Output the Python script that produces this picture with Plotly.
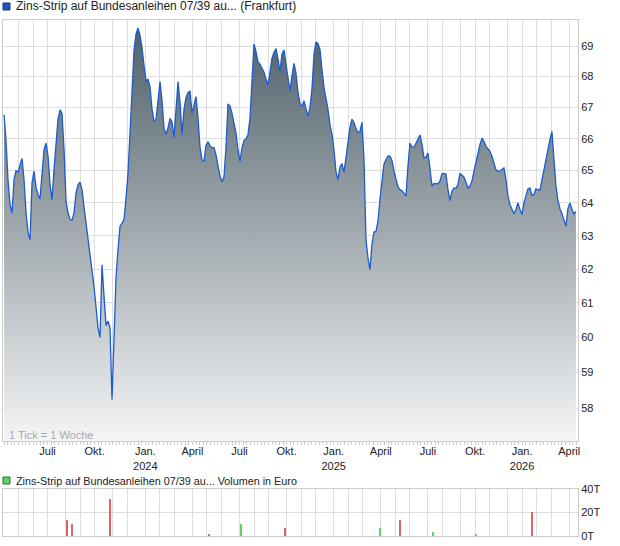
import math
import plotly.graph_objects as go
import pandas as pd

# ---- price series (roughly every 4 days) ----
prices = [
    66.76, 65.94, 64.69, 63.95, 63.69, 64.72, 65.00, 64.95, 65.18, 65.38,
    64.72, 63.69, 63.10, 62.88, 64.62, 64.98, 64.48, 64.26, 64.13, 64.98,
    65.66, 65.86, 65.45, 64.57, 64.10, 65.03, 65.71, 66.63, 66.92, 66.81,
    65.66, 64.05, 63.69, 63.49, 63.47, 63.69, 64.31, 64.56, 64.64, 64.39,
    63.88, 63.41, 62.88, 62.48, 62.05, 61.47, 60.88, 60.27, 60.00, 62.13,
    61.20, 60.34, 60.47, 60.27, 58.24, 59.93, 61.74,
    62.58, 63.29, 63.37, 63.49, 64.15, 64.93, 66.18, 67.54, 68.85, 69.40,
    69.60, 69.36, 68.95, 68.35, 67.86, 67.91, 67.67, 66.94, 66.57, 66.60,
    67.18, 67.84, 67.22, 66.32, 66.15, 66.34, 66.65, 66.54, 66.04, 66.97,
    67.84, 67.18, 66.13, 66.94, 67.32, 67.48, 67.53, 66.81, 67.08, 67.35,
    66.67, 65.73, 65.34, 65.29, 65.79, 65.90, 65.78, 65.72, 65.72, 65.50,
    65.15, 64.82, 64.65, 64.80, 65.74, 67.11, 67.04,
    66.81, 66.49, 66.18, 65.66, 65.29, 65.71, 65.95, 65.99, 66.13, 66.65,
    67.89, 69.07, 68.82, 68.48, 68.40, 68.29, 68.14, 67.92, 67.73, 68.14,
    68.60, 68.79, 68.92, 68.58, 68.16, 68.74, 68.87, 68.41, 67.98, 67.53,
    68.02, 68.43, 68.11, 67.49, 67.13, 67.02, 67.21, 66.99, 66.71, 67.00,
    67.60, 68.71, 69.14, 69.08, 68.89, 68.24, 67.64, 67.29, 66.94, 66.44,
    66.15, 65.66, 64.97, 64.72, 65.11, 65.22, 64.95,
    65.40, 65.95, 66.36, 66.62, 66.52, 66.32, 66.20, 66.23, 66.52, 65.38,
    62.88, 62.33, 61.98, 62.75, 63.11, 63.13, 63.44, 64.10, 64.77, 65.21,
    65.34, 65.46, 65.45, 65.32, 64.98, 64.68, 64.49, 64.41, 64.37, 64.30,
    64.21, 65.14, 65.86, 65.74, 65.73, 65.86, 66.02, 66.12, 65.83, 65.40,
    65.42, 65.55, 65.07, 64.52, 64.60, 64.60, 64.59, 64.67, 64.90, 64.91,
    64.89, 64.41, 64.07, 64.36, 64.46, 64.45, 64.57,
    64.91, 64.86, 64.80, 64.64, 64.46, 64.52, 64.67, 64.98, 65.29, 65.60,
    65.81, 66.02, 65.92, 65.76, 65.68, 65.60, 65.45, 65.24, 65.03, 64.98,
    64.98, 65.03, 65.08, 64.72, 64.21, 63.95, 63.78, 63.67, 63.80, 64.00,
    63.80, 63.64, 64.00, 64.26, 64.43, 64.46, 64.23, 64.26, 64.43, 64.41,
    64.39, 64.70, 65.03, 65.34, 65.66, 65.97, 66.23, 65.27, 64.52, 64.07,
    63.82, 63.67, 63.44, 63.29, 63.82, 64.00, 63.80, 63.66, 63.74,
]
first_date = "2023-04-09"
last_date = "2026-04-18"
dates = pd.date_range(first_date, last_date, periods=len(prices))

# ---- volume (thousand euro) ----
vol_dates = ["2023-08-10", "2023-08-18", "2023-11-01", "2024-05-09", "2024-07-11",
             "2024-10-04", "2025-04-04", "2025-05-14", "2025-07-17", "2025-10-08",
             "2026-01-24"]
vol_values = [13.9, 10.5, 31.8, 2.0, 10.5, 7.0, 7.0, 13.9, 3.7, 1.1, 20.1]
vol_up = [False, False, False, False, True, False, True, False, True, True, False]

# ---- axis ticks ----
month_ticks = ["2023-05-07", "2023-06-04", "2023-07-02", "2023-08-06", "2023-09-03",
               "2023-10-01", "2023-11-05", "2023-12-03", "2024-01-07", "2024-02-04",
               "2024-03-03", "2024-04-07", "2024-05-05", "2024-06-02", "2024-07-07",
               "2024-08-04", "2024-09-01", "2024-10-06", "2024-11-03", "2024-12-01",
               "2025-01-05", "2025-02-02", "2025-03-02", "2025-04-06", "2025-05-04",
               "2025-06-01", "2025-07-06", "2025-08-03", "2025-09-07", "2025-10-05",
               "2025-11-02", "2025-12-07", "2026-01-04", "2026-02-01", "2026-03-01",
               "2026-04-05"]
month_labels = ["", "", "Juli", "", "", "Okt.", "", "", "Jan.<br>2024", "", "",
                "April", "", "", "Juli", "", "", "Okt.", "", "", "Jan.<br>2025", "", "",
                "April", "", "", "Juli", "", "", "Okt.", "", "", "Jan.<br>2026", "", "",
                "April"]
price_ticks = [58, 59, 60, 61, 62, 63, 64, 65, 66, 67, 68, 69]
vol_ticks = [0, 20, 40]
vol_tick_labels = ["0T", "20T", "40T"]

W, H = 620, 546
x_dom = [3 / W, 578 / W]
y_dom = [1 - 441 / H, 1 - 20 / H]
y2_dom = [1 - 536 / H, 1 - 489 / H]
x_range = ["2023-04-07", "2026-04-22"]
y_lo, y_hi = 57.09, 69.87

GRID = "#dddddd"
BORDER = "#cccccc"
TXT = "#222222"
FONT = "Liberation Sans, Arial, sans-serif"

fig = go.Figure()
fig.add_trace(go.Scatter(x=[dates[0], dates[-1]], y=[57.0, 57.0], mode="lines",
                         line=dict(width=0), hoverinfo="skip", showlegend=False,
                         xaxis="x", yaxis="y"))
fig.add_trace(go.Scatter(
    x=dates, y=prices, mode="lines", fill="tonexty",
    line=dict(color="#1c5bd0", width=1.3),
    fillgradient=dict(type="vertical", start=y_lo, stop=y_hi,
                      colorscale=[[0, "#f4f5f6"], [1, "#4e5e68"]]),
    showlegend=False, xaxis="x", yaxis="y"))

fig.add_trace(go.Bar(
    x=vol_dates, y=vol_values,
    marker=dict(color=["#5fd35f" if u else "#e06464" for u in vol_up], line=dict(width=0)),
    width=3.0 * 86400000, showlegend=False, xaxis="x2", yaxis="y2"))

axis_common = dict(showgrid=True, gridcolor=GRID, gridwidth=1, showline=True,
                   linecolor=BORDER, linewidth=1, mirror=True, zeroline=False)

fig.update_layout(
    width=W, height=H, margin=dict(l=0, r=0, t=0, b=0),
    paper_bgcolor="white", plot_bgcolor="white",
    font=dict(family=FONT, size=11, color=TXT),
    bargap=0,
    xaxis=dict(domain=x_dom, range=x_range, type="date", anchor="y",
               tickmode="array", tickvals=month_ticks, ticktext=month_labels,
               ticks="", tickfont=dict(size=11, color=TXT),
               minor=dict(ticks="outside", ticklen=3, tickcolor=BORDER,
                          dtick=7 * 86400000, tick0="2023-04-02", showgrid=False),
               automargin=False, **axis_common),
    yaxis=dict(domain=y_dom, type="log", range=[math.log10(y_lo), math.log10(y_hi)],
               anchor="x", side="right",
               tickmode="array", tickvals=price_ticks, ticks="",
               tickfont=dict(size=11, color=TXT), automargin=False, **axis_common),
    xaxis2=dict(domain=x_dom, range=x_range, type="date", anchor="y2",
                tickmode="array", tickvals=month_ticks, showticklabels=False,
                ticks="", automargin=False, **axis_common),
    yaxis2=dict(domain=y2_dom, range=[0, 40], anchor="x2", side="right",
                tickmode="array", tickvals=vol_ticks, ticktext=vol_tick_labels,
                ticks="", tickfont=dict(size=11, color=TXT), automargin=False,
                **axis_common),
)

# header legends
fig.add_shape(type="rect", xref="paper", yref="paper",
              x0=3 / W, x1=10 / W, y0=1 - 10 / H, y1=1 - 3 / H,
              fillcolor="#1f55c0", line=dict(color="#16306a", width=1))
fig.add_annotation(x=14 / W, y=1 - 6.5 / H, xref="paper", yref="paper",
                   xanchor="left", yanchor="middle", showarrow=False,
                   text="Zins-Strip auf Bundesanleihen 07/39 au... (Frankfurt)",
                   font=dict(size=12, color=TXT))
fig.add_shape(type="rect", xref="paper", yref="paper",
              x0=3 / W, x1=10 / W, y0=1 - 484 / H, y1=1 - 477 / H,
              fillcolor="#5fd35f", line=dict(color="#2b6e2b", width=1))
fig.add_annotation(x=14 / W, y=1 - 480.5 / H, xref="paper", yref="paper",
                   xanchor="left", yanchor="middle", showarrow=False,
                   text="Zins-Strip auf Bundesanleihen 07/39 au... Volumen in Euro",
                   font=dict(size=10.8, color=TXT))
fig.add_annotation(x=7 / W, y=1 - 435 / H, xref="paper", yref="paper",
                   xanchor="left", yanchor="middle", showarrow=False,
                   text="1 Tick = 1 Woche", font=dict(size=11, color="#a8a8a8"))

fig.write_html("out.html", config={"displayModeBar": False},
               post_script="document.body.style.margin='0px';document.body.style.overflow='hidden';")
